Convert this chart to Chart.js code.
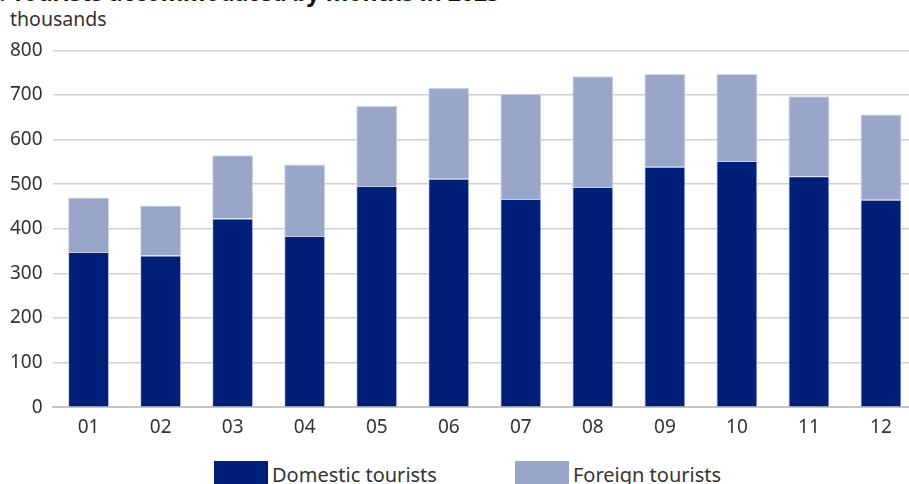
<!DOCTYPE html>
<html>
<head>
<meta charset="utf-8">
<script src="https://cdn.jsdelivr.net/npm/chart.js@4.4.1/dist/chart.umd.min.js"></script>
<style>
  html, body { margin: 0; padding: 0; background: #fff; overflow: hidden; }
  body { width: 909px; height: 484px; position: relative; font-family: "Noto Sans", sans-serif; color: #333; }
  #title { position: absolute; left: -14px; top: -24px; font-weight: bold; font-size: 23px; color: #111; white-space: nowrap; }
  #unit { position: absolute; left: 10px; top: 5px; font-size: 19.5px; }
  #wrap { position: absolute; left: 0; top: 29px; width: 917px; height: 411px; }
  #legend { position: absolute; left: 214px; top: 461px; font-size: 20px; white-space: nowrap; }
  #legend span.item { display: inline-block; margin-right: 78px; }
  #legend span.box { display: inline-block; width: 54px; height: 24px; vertical-align: top; margin-right: 4px; }
</style>
</head>
<body>
<div id="title">1. Tourists accommodated by months in 2023</div>
<div id="unit">thousands</div>
<div id="wrap"><canvas id="myChart"></canvas></div>
<div id="legend"></div>
<script>
  let months=['01','02','03','04','05','06','07','08','09','10','11','12'];
  let domestic=[348,340,423,384,496,512,467,494,539,552,518,465];
  let foreign=[122,112,142,160,180,204,236,248,208,195,179,191];
  let seriesNames=['Domestic tourists','Foreign tourists'];
  let seriesColors=['#001f78','#9aa6c9'];

  var ctx=document.getElementById('myChart').getContext('2d');
  var myChart=new Chart(ctx,{
    type:'bar',
    data:{
      labels:months,
      datasets:[{
        label:seriesNames[0],
        data:domestic,
        backgroundColor:seriesColors[0],
        borderColor:'#c9cfe3',
        borderWidth:1
      },{
        label:seriesNames[1],
        data:foreign,
        backgroundColor:seriesColors[1],
        borderColor:'#d3d8ea',
        borderWidth:1
      }]
    },
    options:{
      responsive:true,
      maintainAspectRatio:false,
      animation:false,
      layout:{padding:{top:10,right:0,left:0,bottom:0}},
      datasets:{bar:{barPercentage:0.57,categoryPercentage:1}},
      plugins:{legend:{display:false},tooltip:{enabled:false}},
      scales:{
        x:{
          stacked:true,
          grid:{display:false},
          border:{color:'#c4c4c4',width:2},
          ticks:{color:'#333',font:{family:'Noto Sans',size:19},padding:1}
        },
        y:{
          stacked:true,
          min:0,max:800,
          ticks:{stepSize:100,color:'#333',font:{family:'Noto Sans',size:19},padding:10},
          grid:{color:'#cfcfcf',lineWidth:1.5,drawTicks:false},
          border:{display:false}
        }
      }
    }
  });

  let legend=document.getElementById('legend');
  for(let i=0;i<seriesNames.length;i++){
    let item=document.createElement('span');
    item.className='item';
    item.innerHTML='<span class="box" style="background:'+seriesColors[i]+'"></span>'+seriesNames[i];
    legend.appendChild(item);
  }
</script>
</body>
</html>
